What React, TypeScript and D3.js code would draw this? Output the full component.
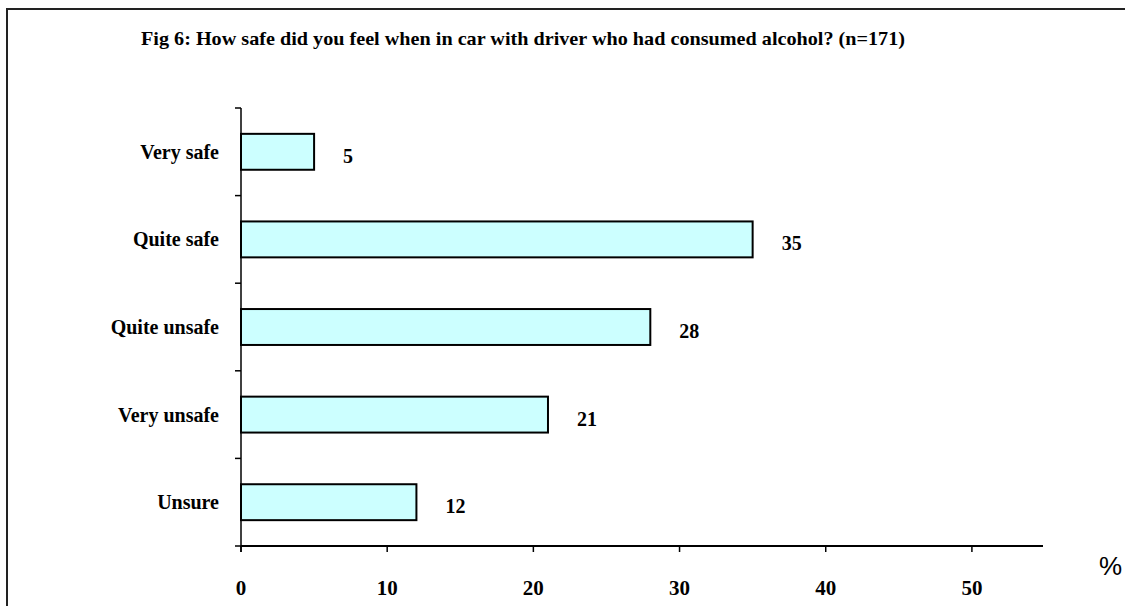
import React from "react";
import * as d3 from "d3";

const categories = ["Very safe", "Quite safe", "Quite unsafe", "Very unsafe", "Unsure"];
const values = [5, 35, 28, 21, 12];
const xTicks = [0, 10, 20, 30, 40, 50];
const title = "Fig 6: How safe did you feel when in car with driver who had consumed alcohol? (n=171)";

export default function App() {
  const W = 1125, H = 606;
  const x = d3.scaleLinear().domain([0, 55]).range([241, 1045]);
  const y = d3.scaleBand<string>().domain(categories).range([108, 546]).paddingInner(0.59).paddingOuter(0.295);
  const step = y.step();
  const serif = "'Liberation Serif', 'Times New Roman', serif";
  const x0 = x(0);
  const yBottom = 546;
  const bounds = d3.range(categories.length + 1).map((i) => 108 + i * step);
  return (
    <svg width={W} height={H} style={{ position: "absolute", left: 0, top: 0, background: "#fff" }}>
      <rect x={7} y={9} width={1140} height={640} fill="none" stroke="#222" strokeWidth={2} />
      <text x={141} y={45} fontFamily={serif} fontWeight="bold" fontSize={19} textLength={764} lengthAdjust="spacingAndGlyphs">
        {title}
      </text>
      {categories.map((c, i) => (
        <g key={c}>
          <rect x={x0} y={y(c)} width={x(values[i]) - x0} height={y.bandwidth()} fill="#CCFFFF" stroke="#000" strokeWidth={2} />
          <text x={219} y={(y(c) as number) + y.bandwidth() / 2} dy="0.35em" textAnchor="end" fontFamily={serif} fontWeight="bold" fontSize={20}>
            {c}
          </text>
          <text x={x(values[i]) + 29} y={(y(c) as number) + y.bandwidth() / 2 + 4} dy="0.35em" fontFamily={serif} fontWeight="bold" fontSize={20}>
            {values[i]}
          </text>
        </g>
      ))}
      <line x1={x0} x2={x0} y1={108} y2={yBottom + 6} stroke="#000" strokeWidth={1.5} />
      {bounds.map((b, i) => (
        <line key={i} x1={x0 - 6} x2={x0} y1={b} y2={b} stroke="#000" strokeWidth={1.5} />
      ))}
      <line x1={x0} x2={1043} y1={yBottom} y2={yBottom} stroke="#000" strokeWidth={2} />
      {xTicks.map((t) => (
        <g key={t}>
          <line x1={x(t)} x2={x(t)} y1={yBottom} y2={yBottom + 6} stroke="#000" strokeWidth={1.5} />
          <text x={x(t)} y={595} textAnchor="middle" fontFamily={serif} fontWeight="bold" fontSize={21}>
            {t}
          </text>
        </g>
      ))}
      <text x={1099} y={575} fontFamily="'Liberation Sans', Arial, sans-serif" fontSize={26}>%</text>
    </svg>
  );
}
